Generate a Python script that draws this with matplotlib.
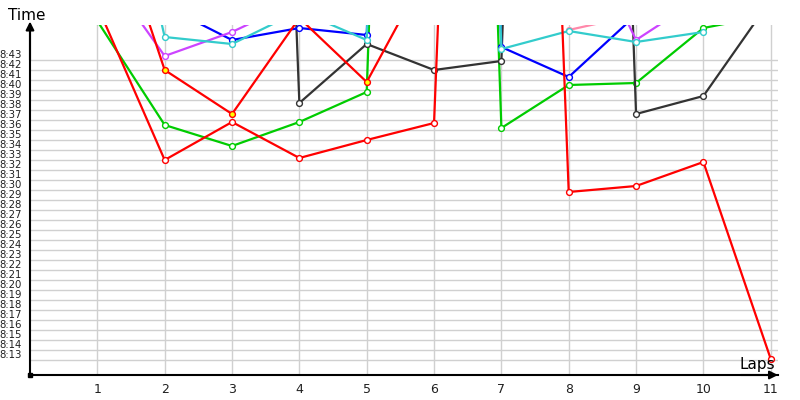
import matplotlib
matplotlib.use("Agg")
import matplotlib.pyplot as plt
import matplotlib.transforms as mtransforms

nan = float("nan")

laps = [1, 2, 3, 4, 5, 6, 7, 8, 9, 10, 11]

# lap times in seconds (8:33 -> 513)
red_a = [528.4, 513.0, 516.8, 513.2, 515.0, 516.7, 685.0, 509.8, 510.4, 512.8, 493.1]
red_b = [542.2, 522.0, 517.6, 527.2, 520.8, 533.2, nan, nan, nan, nan, nan]
green = [526.9, 516.5, 514.4, 516.8, 519.8, 715.0, 516.2, 520.5, 520.7, 526.2, 527.5]
blue = [535.0, 528.4, 525.0, 526.2, 525.5, 720.0, 524.3, 521.3, 527.5, 529.0, 530.0]
cyan = [555.0, 525.3, 524.6, 527.9, 525.0, 720.0, 524.1, 525.9, 524.8, 525.8, nan]
black = [540.0, 550.0, 693.0, 518.7, 524.6, 522.0, 522.9, 710.0, 517.6, 519.4, 529.0]
purple = [532.9, 523.4, 525.8, 529.0, 535.0, 540.0, 545.0, 539.0, 525.0, 529.4, 532.0]
pink = [nan, nan, nan, nan, nan, nan, nan, 526.0, 527.5, 529.0, 530.5]

y_ticks = list(range(493, 524))
y_tick_labels = [f"{t // 60}:{t % 60:02d}" for t in y_ticks]
x_tick_labels = [str(l) for l in laps]


def draw_series(ax, values, color, face="white"):
    ax.plot(laps, values, color=color, lw=1.6, marker="o", markersize=4.2,
            markerfacecolor=face, markeredgecolor=color, markeredgewidth=1.0)


def main():
    fig = plt.figure(figsize=(8, 4), dpi=100)
    ax = fig.add_axes([30 / 800, 25 / 400, 748 / 800, 350 / 400])

    ax.set_xlim(0, 748 / 67.34)
    ax.set_ylim(491.5, 526.5)

    for s in ["top", "right"]:
        ax.spines[s].set_visible(False)
    ax.spines["left"].set_linewidth(1.5)
    ax.spines["bottom"].set_linewidth(1.5)

    ax.set_xticks(laps)
    ax.set_xticklabels(x_tick_labels, fontsize=9, color="#202020")
    ax.set_yticks(y_ticks)
    ax.set_yticklabels(y_tick_labels, fontsize=7.3, color="#202020")
    ax.tick_params(axis="both", length=0)
    ax.tick_params(axis="y", pad=6)
    ax.tick_params(axis="x", pad=6)

    # labels sit a little above their grid line
    offset = mtransforms.ScaledTranslation(0, 0.055, fig.dpi_scale_trans)
    for lab in ax.get_yticklabels():
        lab.set_transform(lab.get_transform() + offset)

    ax.grid(True, color="#d0d0d0", lw=1.0)
    ax.set_axisbelow(True)

    # Series
    draw_series(ax, green, "#00cc00")
    draw_series(ax, black, "#333333")
    draw_series(ax, blue, "#0000ff")
    draw_series(ax, pink, "#ff88aa")
    draw_series(ax, purple, "#cc44ff")
    draw_series(ax, cyan, "#33cccc")
    draw_series(ax, red_a, "#ff0000")
    draw_series(ax, red_b, "#ff0000", face="#ffff00")

    # axis arrows
    ax.annotate("", xy=(0, 1.01), xytext=(0, 0.9), xycoords="axes fraction",
                arrowprops=dict(arrowstyle="-|>", color="black", lw=1.5,
                                mutation_scale=12, shrinkA=0, shrinkB=0))
    ax.annotate("", xy=(1.0, 0), xytext=(0.95, 0), xycoords="axes fraction",
                arrowprops=dict(arrowstyle="-|>", color="black", lw=1.5,
                                mutation_scale=12, shrinkA=0, shrinkB=0))
    ax.plot([0], [0], marker="s", color="black", markersize=3.5,
            transform=ax.transAxes, clip_on=False)

    fig.text(8 / 800, 1 - 15 / 400, "Time", fontsize=11, va="center", ha="left")
    fig.text(775 / 800, 1 - 365 / 400, "Laps", fontsize=11, va="center", ha="right")

    fig.savefig("out.png", dpi=100)


if __name__ == "__main__":
    main()
